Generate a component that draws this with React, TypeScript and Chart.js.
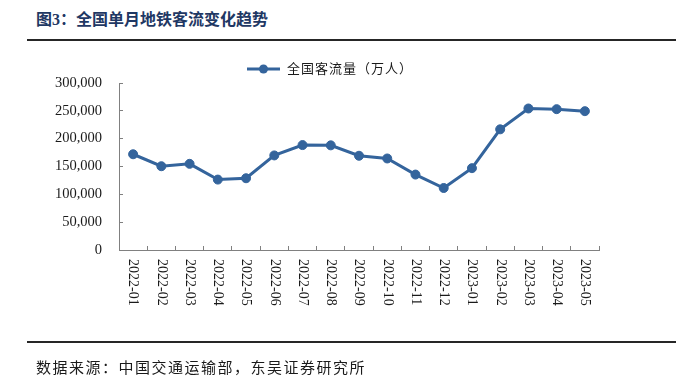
import React, { useEffect, useRef } from "react";
import { Chart, registerables } from "chart.js";

Chart.register(...registerables);

const categories: string[] = [
  "2022-01", "2022-02", "2022-03", "2022-04", "2022-05", "2022-06",
  "2022-07", "2022-08", "2022-09", "2022-10", "2022-11", "2022-12",
  "2023-01", "2023-02", "2023-03", "2023-04", "2023-05",
];

const passengerFlow: number[] = [
  172000, 150500, 154800, 126500, 128900, 169900,
  188500, 188000, 169300, 164400, 135500, 111400,
  147000, 216800, 254200, 253000, 249400,
];

const seriesName = "全国客流量（万人）";
const titleText = "图3：全国单月地铁客流变化趋势";
const sourceText = "数据来源：中国交通运输部，东吴证券研究所";

const yMin = 0;
const yMax = 300000;
const yStep = 50000;

const LINE_COLOR = "#34649C";
const AXIS_COLOR = "#808080";
const SERIF = '"Liberation Serif", "Noto Sans CJK SC", serif';

const customPlugin = {
  id: "customDraw",
  afterDraw(chart: any) {
    const ctx = chart.ctx as CanvasRenderingContext2D;
    const xScale = chart.scales.x;
    const area = chart.chartArea;
    // rotated x labels (top-to-bottom)
    ctx.save();
    ctx.fillStyle = "#1a1a1a";
    ctx.font = `14px ${SERIF}`;
    ctx.textAlign = "left";
    ctx.textBaseline = "middle";
    categories.forEach((lab, i) => {
      const x = xScale.getPixelForValue(i);
      ctx.save();
      ctx.translate(x, area.bottom + 9);
      ctx.rotate(Math.PI / 2);
      ctx.fillText(lab, 0, 0);
      ctx.restore();
    });
    ctx.restore();

    // legend
    ctx.save();
    const ly = 69;
    ctx.strokeStyle = LINE_COLOR;
    ctx.lineWidth = 3;
    ctx.beginPath();
    ctx.moveTo(247, ly);
    ctx.lineTo(280, ly);
    ctx.stroke();
    ctx.fillStyle = LINE_COLOR;
    ctx.beginPath();
    ctx.arc(263.5, ly, 4.5, 0, Math.PI * 2);
    ctx.fill();
    ctx.fillStyle = "#1a1a1a";
    ctx.font = `13px ${SERIF}`;
    (ctx as any).letterSpacing = "1px";
    ctx.textAlign = "left";
    ctx.textBaseline = "middle";
    ctx.fillText(seriesName, 287, ly + 0.5);
    ctx.restore();
  },
};

export default function App() {
  const canvasRef = useRef<HTMLCanvasElement | null>(null);

  useEffect(() => {
    if (!canvasRef.current) return;
    const chart = new Chart(canvasRef.current, {
      type: "line",
      data: {
        labels: categories,
        datasets: [
          {
            label: seriesName,
            data: passengerFlow,
            borderColor: LINE_COLOR,
            backgroundColor: LINE_COLOR,
            pointBackgroundColor: LINE_COLOR,
            pointBorderColor: LINE_COLOR,
            borderWidth: 3,
            pointRadius: 4.5,
            pointBorderWidth: 1,
            tension: 0,
          },
        ],
      },
      options: {
        responsive: false,
        animation: false,
        devicePixelRatio: 1,
        layout: { padding: { left: 55, right: 77, top: 83, bottom: 141 } },
        plugins: {
          legend: { display: false },
          tooltip: { enabled: false },
          title: { display: false },
        },
        scales: {
          x: {
            type: "category",
            offset: true,
            afterFit: (scale: any) => {
              scale.height = 0;
            },
            grid: {
              offset: true,
              drawOnChartArea: false,
              drawTicks: true,
              tickLength: -4,
              color: AXIS_COLOR,
            },
            border: { display: true, color: AXIS_COLOR, width: 1 },
            ticks: { display: false },
          },
          y: {
            min: yMin,
            max: yMax,
            afterFit: (scale: any) => {
              scale.width = 64;
            },
            grid: {
              drawOnChartArea: false,
              drawTicks: true,
              tickLength: -4,
              color: AXIS_COLOR,
            },
            border: { display: true, color: AXIS_COLOR, width: 1 },
            ticks: {
              stepSize: yStep,
              padding: 21,
              color: "#1a1a1a",
              font: { family: SERIF, size: 14.5 },
              callback: (v: any) => Number(v).toLocaleString("en-US"),
            },
          },
        },
      },
      plugins: [customPlugin],
    });
    return () => chart.destroy();
  }, []);

  return (
    <div style={{ position: "absolute", left: 0, top: 0, width: 676, height: 391, background: "#fff", overflow: "hidden" }}>
      <div
        style={{
          position: "absolute", left: 36, top: 10, height: 20, lineHeight: "20px",
          fontFamily: SERIF, fontWeight: "bold", fontSize: 16, color: "#1F3864", whiteSpace: "nowrap",
        }}
      >
        {titleText}
      </div>
      <div style={{ position: "absolute", left: 27, top: 39, width: 649, height: 2, background: "#262626" }} />
      <canvas ref={canvasRef} width={676} height={391} style={{ position: "absolute", left: 0, top: 0, width: 676, height: 391 }} />
      <div style={{ position: "absolute", left: 27, top: 341, width: 649, height: 2, background: "#262626" }} />
      <div
        style={{
          position: "absolute", left: 36, top: 358, height: 20, lineHeight: "20px",
          fontFamily: SERIF, fontSize: 15, letterSpacing: "1.5px", color: "#1a1a1a", whiteSpace: "nowrap",
        }}
      >
        {sourceText}
      </div>
    </div>
  );
}
